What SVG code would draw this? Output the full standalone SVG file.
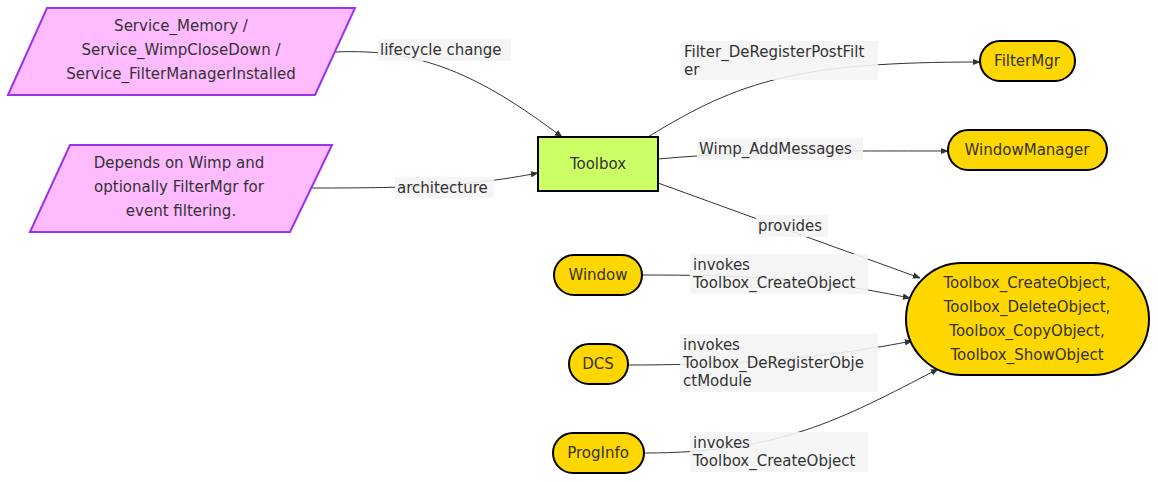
<svg xmlns="http://www.w3.org/2000/svg" width="1158" height="482" viewBox="0 0 1158 482">
<style>
text{font-family:"DejaVu Sans",sans-serif;font-size:15px;fill:#333}
.c{text-anchor:middle}
.para{fill:#ffbbff;stroke:#9933ee;stroke-width:2}
.st{fill:#ffd700;stroke:#000;stroke-width:2}
.e{fill:none;stroke:#333;stroke-width:1;marker-end:url(#a)}
.lb{fill:#f4f4f4;opacity:0.9}
</style>
<defs><marker id="a" viewBox="0 0 10 10" refX="9" refY="5" markerWidth="8" markerHeight="8" orient="auto"><path d="M0,1L10,5L0,9z" fill="#333"/></marker></defs>
<rect width="1158" height="482" fill="#fff"/>
<g id="connectors">
<path class="e" d="M335,52C420,48 480,75 562,137"/>
<path class="e" d="M312,188C420,188 470,186 538,173"/>
<path class="e" d="M648,137C740,80 800,62 980,62"/>
<path class="e" d="M658,159C760,150 840,151 948,151"/>
<path class="e" d="M658,183L920,278"/>
<path class="e" d="M642,275C780,275 830,282 910,298"/>
<path class="e" d="M628,365C760,365 840,355 912,341"/>
<path class="e" d="M644,453C780,453 840,420 938,369"/>
<rect class="lb" x="378" y="39" width="133" height="22"/><text x="380" y="55">lifecycle change</text>
<rect class="lb" x="395" y="177" width="99" height="21"/><text x="397" y="193">architecture</text>
<rect class="lb" x="681" y="41" width="197" height="39"/><text x="684" y="57">Filter_DeRegisterPostFilt</text><text x="684" y="75">er</text>
<rect class="lb" x="697" y="138" width="166" height="22"/><text x="699" y="154">Wimp_AddMessages</text>
<rect class="lb" x="756" y="215" width="72" height="22"/><text x="758" y="231">provides</text>
<rect class="lb" x="690" y="254" width="178" height="40"/><text x="693" y="270">invokes</text><text x="693" y="288">Toolbox_CreateObject</text>
<rect class="lb" x="680" y="334" width="198" height="58"/><text x="683" y="350">invokes</text><text x="683" y="368">Toolbox_DeRegisterObje</text><text x="683" y="386">ctModule</text>
<rect class="lb" x="690" y="432" width="178" height="40"/><text x="693" y="448">invokes</text><text x="693" y="466">Toolbox_CreateObject</text>
</g>
<g id="svc"><polygon class="para" points="8,95 47,8 355,8 315,95"/><text class="c" x="181" y="31">Service_Memory /</text><text class="c" x="181" y="55">Service_WimpCloseDown /</text><text class="c" x="181" y="79">Service_FilterManagerInstalled</text></g>
<g id="dep"><polygon class="para" points="30,232 70,145 332,145 290,232"/><text class="c" x="179" y="168">Depends on Wimp and</text><text class="c" x="179" y="192">optionally FilterMgr for</text><text class="c" x="181" y="216">event filtering.</text></g>
<g id="toolbox"><rect x="538" y="137" width="120" height="54" fill="#ccff66" stroke="#000" stroke-width="2"/><text class="c" x="598" y="169">Toolbox</text></g>
<g id="filtermgr"><rect class="st" x="980" y="41" width="95" height="40" rx="20"/><text class="c" x="1027" y="66">FilterMgr</text></g>
<g id="wm"><rect class="st" x="948" y="130" width="159" height="40" rx="20"/><text class="c" x="1027" y="155">WindowManager</text></g>
<g id="window"><rect class="st" x="554" y="255" width="88" height="40" rx="20"/><text class="c" x="598" y="280">Window</text></g>
<g id="dcs"><rect class="st" x="569" y="344" width="59" height="40" rx="20"/><text class="c" x="598" y="369">DCS</text></g>
<g id="proginfo"><rect class="st" x="553" y="433" width="91" height="40" rx="20"/><text class="c" x="598" y="458">ProgInfo</text></g>
<g id="api"><rect class="st" x="906" y="263" width="243" height="112" rx="56"/><text class="c" x="1027" y="288">Toolbox_CreateObject,</text><text class="c" x="1027" y="312">Toolbox_DeleteObject,</text><text class="c" x="1027" y="336">Toolbox_CopyObject,</text><text class="c" x="1027" y="360">Toolbox_ShowObject</text></g>
</svg>
